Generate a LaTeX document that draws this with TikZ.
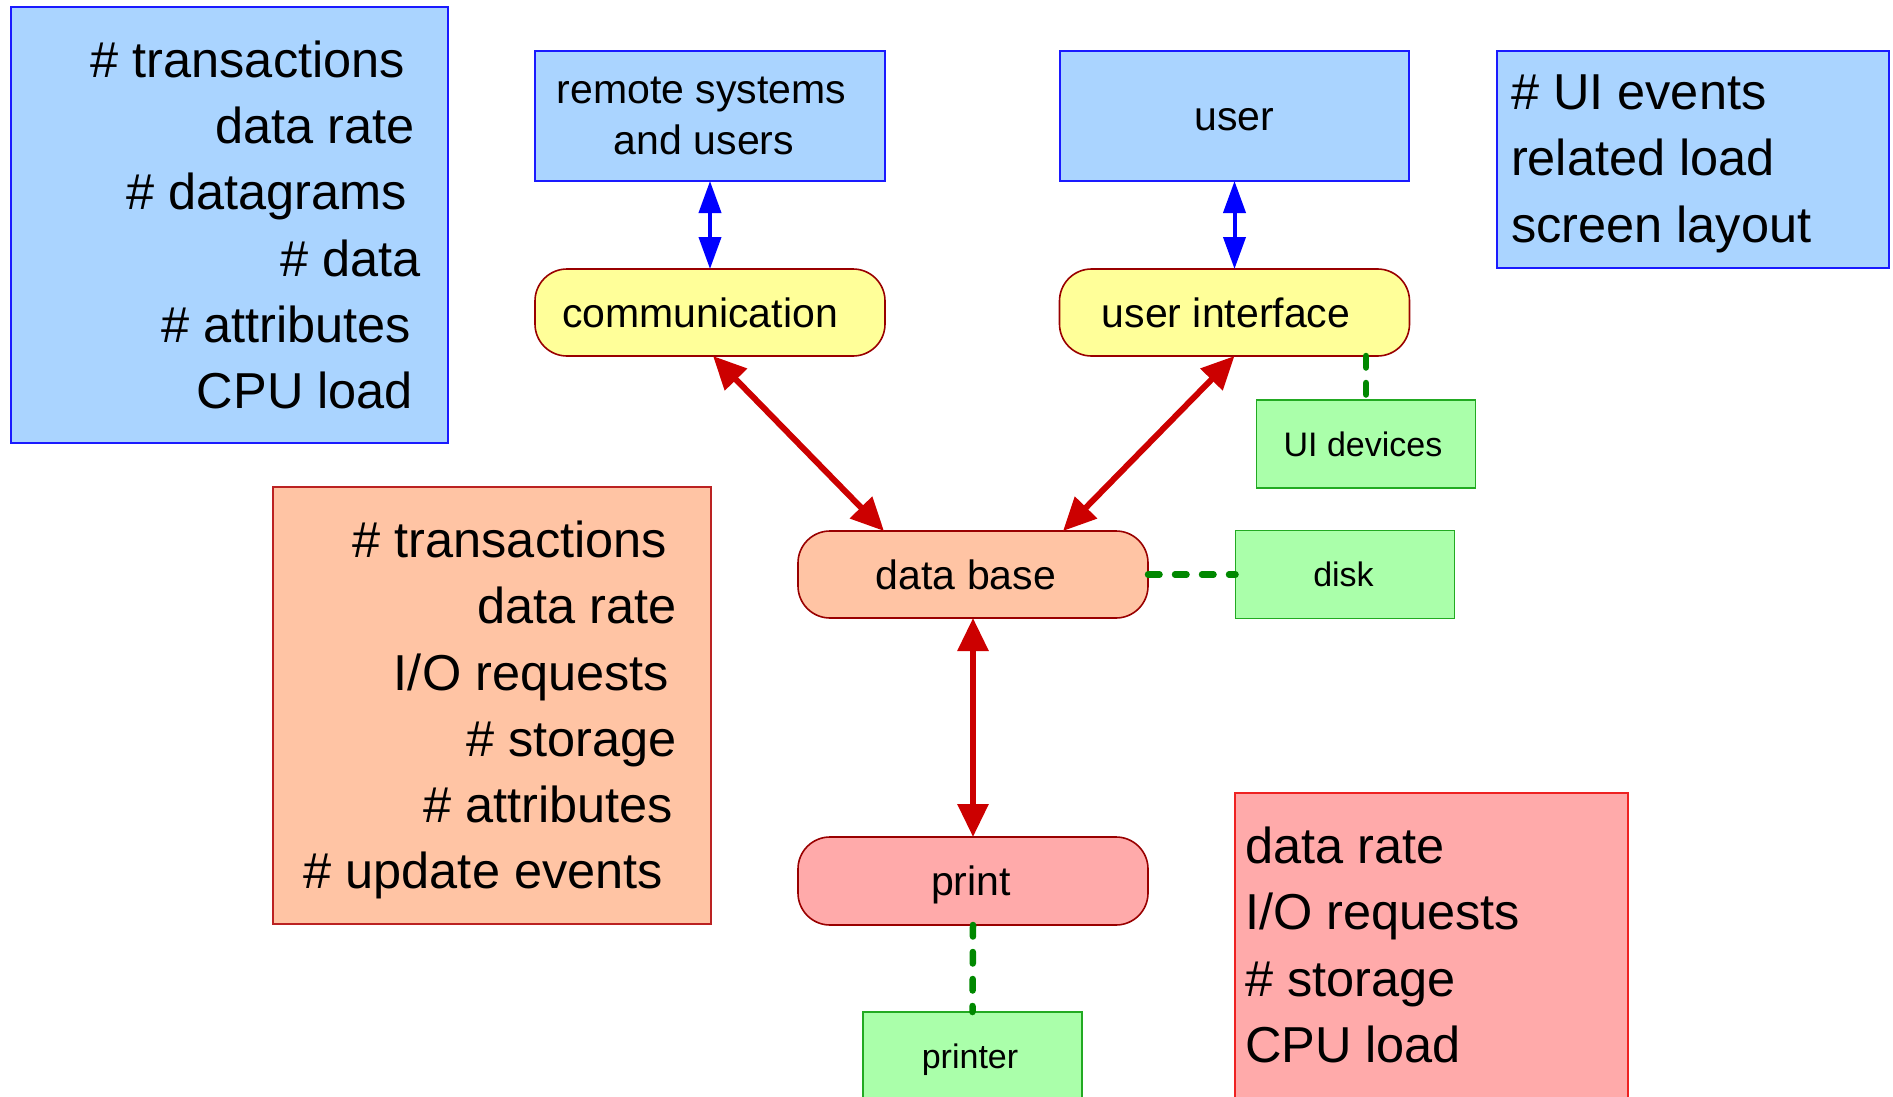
\documentclass[tikz,border=0pt]{standalone}
\usepackage{fontspec}
\setmainfont{Liberation Sans}
\usetikzlibrary{arrows.meta,calc}
\definecolor{bluefill}{HTML}{AAD4FF}
\definecolor{blueline}{HTML}{1A1AFF}
\definecolor{yelfill}{HTML}{FFFF99}
\definecolor{darkred}{HTML}{990000}
\definecolor{peach}{HTML}{FFC4A4}
\definecolor{pinkfill}{HTML}{FFAAAA}
\definecolor{greenfill}{HTML}{AAFFAA}
\definecolor{greenline}{HTML}{22AA22}
\definecolor{arrowred}{HTML}{CC0000}
\definecolor{dashgreen}{HTML}{008800}
\definecolor{pinkline}{HTML}{EE2222}
\definecolor{orangeline}{HTML}{BB2222}
\newcommand\trailsp[1]{\rule{#1}{0pt}}
\begin{document}
\begin{tikzpicture}[x=1pt,y=-1pt,
  bluebox/.style={draw=blueline, fill=bluefill, line width=1.6pt, inner sep=0pt, outer sep=0pt, align=center, font=\fontsize{41}{51}\selectfont},
  procbox/.style={draw=darkred, rounded corners=32pt, line width=1.6pt, inner sep=0pt, outer sep=0pt, minimum width=350pt, minimum height=87pt, text height=29.4pt, text depth=0pt, font=\fontsize{41}{51}\selectfont},
  devbox/.style={draw=greenline, fill=greenfill, line width=1.6pt, inner sep=0pt, outer sep=0pt, minimum width=219pt, minimum height=88pt, text height=24.3pt, text depth=0pt, font=\fontsize{34}{40}\selectfont},
  listbox/.style={line width=1.6pt, inner sep=0pt, outer sep=0pt},
  listtext/.style={inner sep=0pt, outer sep=0pt, font=\fontsize{50.5}{66.3}\selectfont},
  redarrow/.style={draw=arrowred, line width=6pt, >={Triangle[length=33pt,width=30pt]}, <->},
  bluearrow/.style={draw=blue, line width=4pt, >={Triangle[length=32pt,width=22pt]}, <->},
  dashlink/.style={draw=dashgreen, line width=6.5pt, line cap=round, dash pattern=on 11.5pt off 15.5pt}
]
\useasboundingbox (0,0) rectangle (1893,1097);

% list boxes
\node[listbox, draw=blueline, fill=bluefill, minimum width=437pt, minimum height=436pt] (boxA) at (229.5,225) {};
\node[listtext, anchor=north east, align=right] (listA) at (421,40.8)
  {\#~transactions\trailsp{16pt}\\data rate\trailsp{6pt}\\\#~datagrams\trailsp{14pt}\\\#~data\\\#~attributes\trailsp{10pt}\\CPU load\trailsp{8pt}};

\node[listbox, draw=orangeline, fill=peach, minimum width=438pt, minimum height=437pt] (boxB) at (492,705.5) {};
\node[listtext, anchor=north east, align=right] (listB) at (677,520.8)
  {\#~transactions\trailsp{10pt}\\data rate\\I/O requests\trailsp{8pt}\\\#~storage\\\#~attributes\trailsp{4pt}\\\#~update events\trailsp{14pt}};

\node[listbox, draw=blueline, fill=bluefill, minimum width=392pt, minimum height=217pt] (boxC) at (1693,159.5) {};
\node[listtext, anchor=north west, align=left] (listC) at (1511,74.8)
  {\#~UI events\\related load\\screen layout};

\node[listbox, draw=pinkline, fill=pinkfill, minimum width=393pt, minimum height=317pt] (boxD) at (1431.5,951.5) {};
\node[listtext, anchor=north west, align=left] (listD) at (1245,826.8)
  {data rate\\I/O requests\\\#~storage\\CPU load};

% main nodes
\node[bluebox, minimum width=350pt, minimum height=130pt] (remote) at (710,116) {remote systems\trailsp{17pt}\\and users\trailsp{12pt}};
\node[bluebox, minimum width=349pt, minimum height=130pt, text height=29.4pt, text depth=0pt] (user) at (1234.5,116) {user};
\node[procbox, fill=yelfill] (comm) at (710,312.5) {communication\trailsp{20pt}};
\node[procbox, fill=yelfill] (ui) at (1234.5,312.5) {user interface\trailsp{17pt}};
\node[procbox, fill=peach] (db) at (973,574.5) {data base\trailsp{14pt}};
\node[procbox, fill=pinkfill, minimum height=88pt] (print) at (973,881) {print\trailsp{4pt}};
\node[devbox] (uidev) at (1366,444) {UI devices\trailsp{6pt}};
\node[devbox] (disk) at (1345,574.5) {disk\trailsp{3pt}};
\node[devbox] (printer) at (972.5,1056) {printer\trailsp{5pt}};

% connectors
\draw[bluearrow] (remote) -- (comm);
\draw[bluearrow] (user) -- (ui);
\draw[redarrow] ($(comm.south)+(3,0)$) -- ($(db.north)+(-89,0)$);
\draw[redarrow] (ui.south) -- ($(db.north)+(90,0)$);
\draw[redarrow] (db) -- (print);
\draw[dashlink] (uidev.north |- ui.south) -- (uidev.north);
\draw[dashlink] (db.east) -- (disk.west);
\draw[dashlink] (print.south) -- (printer.north);
\end{tikzpicture}
\end{document}
